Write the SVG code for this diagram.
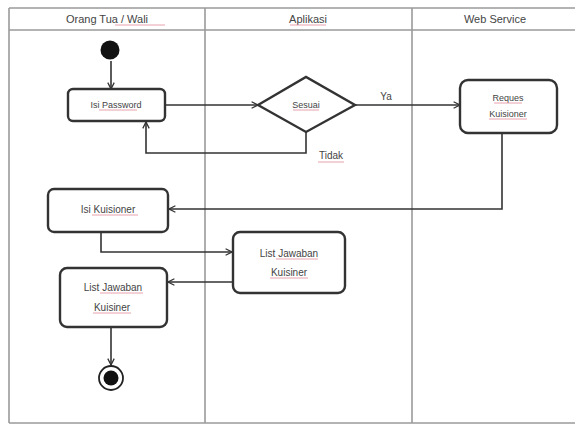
<svg xmlns="http://www.w3.org/2000/svg" width="575" height="425" viewBox="0 0 575 425">
<defs>
<style>
.lane{stroke:#9a9a9a;stroke-width:1.6;fill:none}
.box{fill:#fff;stroke:#333;stroke-width:2.4}
.edge{fill:none;stroke:#333;stroke-width:1.6}
.t{font-family:"Liberation Sans",Arial,sans-serif;fill:#444;text-anchor:middle}
.h{font-size:11px}
.s{font-size:9px}
.m{font-size:10px}
.u{stroke:#e08a9a;stroke-width:0.8}
</style>
<marker id="arr" viewBox="0 0 10 10" refX="9" refY="5" markerWidth="8" markerHeight="8" orient="auto" markerUnits="userSpaceOnUse">
<path d="M1,1 L9,5 L1,9" fill="none" stroke="#333" stroke-width="1.6"/>
</marker>
</defs>
<rect width="575" height="425" fill="#fff"/>
<g id="lanes">
<line class="lane" x1="9" y1="8" x2="575" y2="8"/>
<line class="lane" x1="9" y1="30" x2="575" y2="30"/>
<line class="lane" x1="9" y1="8" x2="9" y2="423"/>
<line class="lane" x1="9" y1="423" x2="575" y2="423"/>
<line class="lane" x1="205" y1="8" x2="205" y2="423"/>
<line class="lane" x1="412" y1="8" x2="412" y2="423"/>
<text class="t h" x="107" y="23">Orang Tua / Wali</text>
<line class="u" x1="115" y1="25" x2="165" y2="25"/>
<text class="t h" x="308" y="23">Aplikasi</text>
<line class="u" x1="290" y1="25" x2="326" y2="25"/>
<text class="t h" x="495" y="23">Web Service</text>
</g>
<g id="connectors">
<line class="edge" x1="111" y1="61" x2="111" y2="89" marker-end="url(#arr)"/>
<line class="edge" x1="165" y1="105" x2="258" y2="105" marker-end="url(#arr)"/>
<line class="edge" x1="355" y1="105" x2="460" y2="105" marker-end="url(#arr)"/>
<text class="t m" x="386" y="100">Ya</text>
<polyline class="edge" points="306,132 306,153 146,153 146,122" marker-end="url(#arr)"/>
<text class="t m" x="331" y="159">Tidak</text>
<line class="u" x1="318" y1="162" x2="344" y2="162"/>
<polyline class="edge" points="502,133 502,209 169,209" marker-end="url(#arr)"/>
<polyline class="edge" points="101,232 101,252 232,252" marker-end="url(#arr)"/>
<line class="edge" x1="233" y1="282" x2="168" y2="282" marker-end="url(#arr)"/>
<line class="edge" x1="111" y1="327" x2="111" y2="365" marker-end="url(#arr)"/>
</g>
<g id="start">
<circle cx="110" cy="50" r="9.5" fill="#111"/>
</g>
<g id="isi-password">
<rect class="box" x="68" y="89" width="97" height="32" rx="5"/>
<text class="t s" x="116" y="108">Isi Password</text>
<line class="u" x1="99" y1="110" x2="137" y2="110"/>
</g>
<g id="sesuai">
<polygon class="box" points="258,105 306,77 355,105 306,132"/>
<text class="t s" x="306" y="108">Sesuai</text>
<line class="u" x1="293" y1="110" x2="319" y2="110"/>
</g>
<g id="reques-kuisioner">
<rect class="box" x="460" y="80" width="97" height="53" rx="8"/>
<text class="t s" x="508" y="101">Reques</text>
<line class="u" x1="494" y1="103" x2="522" y2="103"/>
<text class="t s" x="508" y="117">Kuisioner</text>
<line class="u" x1="489" y1="119" x2="527" y2="119"/>
</g>
<g id="isi-kuisioner">
<rect class="box" x="48" y="189" width="120" height="43" rx="6"/>
<text class="t m" x="108" y="213">Isi Kuisioner</text>
<line class="u" x1="92" y1="215" x2="138" y2="215"/>
</g>
<g id="list-jawaban-app">
<rect class="box" x="233" y="232" width="112" height="61" rx="7"/>
<text class="t m" x="289" y="257">List Jawaban</text>
<line class="u" x1="276" y1="259" x2="318" y2="259"/>
<text class="t m" x="289" y="276">Kuisiner</text>
<line class="u" x1="270" y1="278" x2="308" y2="278"/>
</g>
<g id="list-jawaban-user">
<rect class="box" x="60" y="268" width="107" height="59" rx="7"/>
<text class="t m" x="113" y="291">List Jawaban</text>
<line class="u" x1="100" y1="293" x2="143" y2="293"/>
<text class="t m" x="112" y="311">Kuisiner</text>
<line class="u" x1="93" y1="313" x2="131" y2="313"/>
</g>
<g id="end">
<circle cx="111" cy="378" r="12" fill="#fff" stroke="#222" stroke-width="1.8"/>
<circle cx="111" cy="378" r="7.5" fill="#111"/>
</g>
</svg>
